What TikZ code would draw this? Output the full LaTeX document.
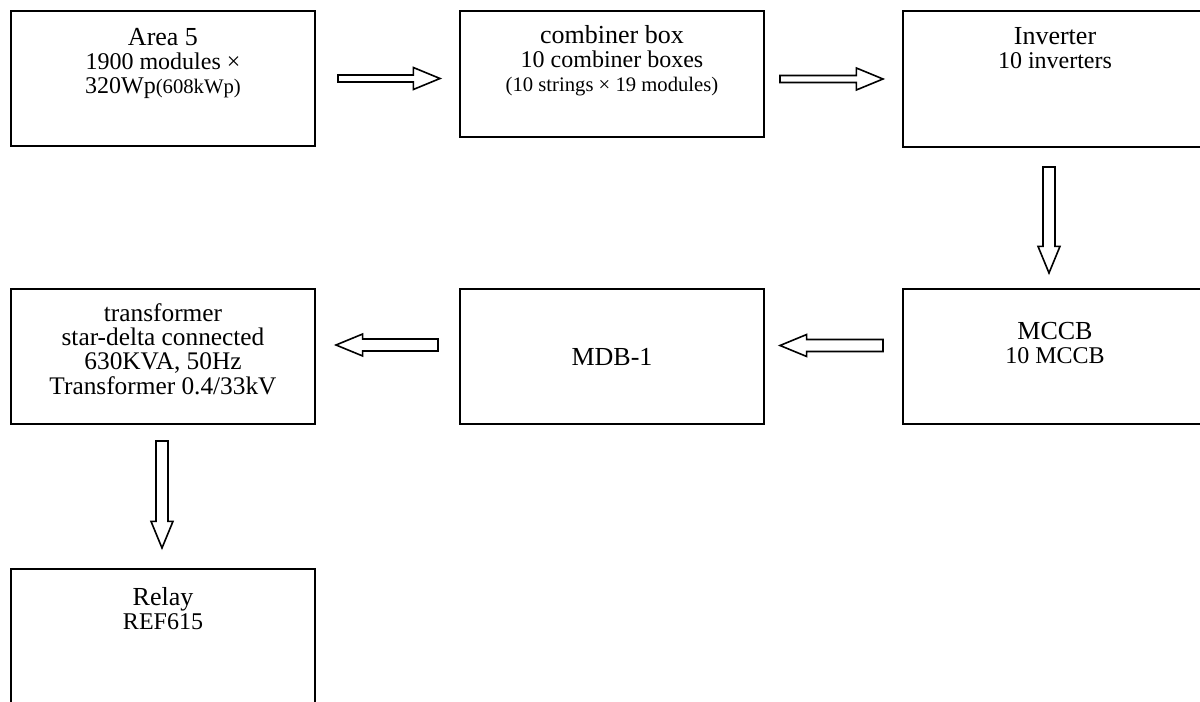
\documentclass[tikz,border=0pt]{standalone}
\usepackage{fontspec}
\setmainfont{Liberation Serif}
\usepackage{tikz}
\usetikzlibrary{calc}
\newcommand{\ttl}{\fontsize{19.5}{18}\selectfont}
\newcommand{\sml}{\fontsize{15.5}{18}\selectfont}
\tikzset{
  blk/.style={rectangle, draw, line width=1.5pt, anchor=north west, inner sep=0pt,
              minimum width=228pt, minimum height=101.25pt},
  txt/.style={align=center, anchor=base, inner sep=0pt, font=\fontsize{18}{18}\selectfont},
  fat/.style={draw, line width=1.2pt, fill=white, miter limit=20},
}
% hollow block arrow: [shaft half width]{from}{to}
\newcommand{\fatarrow}[3][4.5pt]{%
  \coordinate (fa-h) at ($(#3)!20pt!(#2)$);
  \draw[fat] ($(#2)!#1!90:(#3)$) -- ($(fa-h)!#1!90:(#3)$) -- ($(fa-h)!8.25pt!90:(#3)$)
    -- (#3) -- ($(fa-h)!8.25pt!-90:(#3)$) -- ($(fa-h)!#1!-90:(#3)$)
    -- ($(#2)!#1!-90:(#3)$) -- cycle;
}

\begin{document}
\begin{tikzpicture}[x=0.75pt, y=-0.75pt]
  \useasboundingbox (0,0) rectangle (1200,702);
  % boxes
  \node[blk] (area) at (10,10) {};
  \node[blk, minimum height=94.5pt] (comb) at (459,10) {};
  \node[blk, minimum height=102pt] (inv) at (902,10) {};
  \node[blk] (mccb) at (902,288) {};
  \node[blk] (mdb) at (459,288) {};
  \node[blk] (trans) at (10,288) {};
  \node[blk, minimum height=102pt] (relay) at (10,568) {};
  % texts (base = last line)
  \node[txt] (area-t) at ([yshift=-62.8pt]area.north)
    {{\ttl Area 5}\\1900 modules ×\\320Wp{\sml(608kWp)}};
  \node[txt] (comb-t) at ([yshift=-61.5pt]comb.north)
    {{\ttl combiner box}\\10 combiner boxes\\{\sml(10 strings × 19 modules)}};
  \node[txt] (inv-t) at ([yshift=-44.25pt]inv.north)
    {{\ttl Inverter}\\10 inverters};
  \node[txt] (mccb-t) at ([yshift=-56.8pt]mccb.north)
    {{\ttl MCCB}\\10 MCCB};
  \node[txt] (mdb-t) at ([yshift=-58.5pt]mdb.north) {\ttl MDB-1};
  \node[txt, font=\fontsize{19}{18.2}\selectfont] (trans-t) at ([yshift=-79.5pt]trans.north)
    {transformer\\star-delta connected\\630KVA, 50Hz\\Transformer 0.4/33kV};
  \node[txt] (relay-t) at ([yshift=-46.3pt]relay.north)
    {{\ttl Relay}\\REF615};
  % arrows
  \coordinate (a1s) at ($(area.east)+(22,0)$);
  \coordinate (a1e) at ($(area.east -| comb.west)+(-19,0)$);
  \fatarrow[2.6pt]{a1s}{a1e}
  \coordinate (a2s) at ($(comb.east |- inv.west)+(15,0)$);
  \coordinate (a2e) at ($(inv.west)+(-19,0)$);
  \fatarrow[2.6pt]{a2s}{a2e}
  \coordinate (a3s) at ($(inv.south)+(-6,19)$);
  \coordinate (a3e) at ($(mccb.north)+(-6,-15)$);
  \fatarrow{a3s}{a3e}
  \coordinate (a4s) at ($(mccb.west)+(-19,-11)$);
  \coordinate (a4e) at ($(mdb.east)+(15,-11)$);
  \fatarrow{a4s}{a4e}
  \coordinate (a5s) at ($(mdb.west)+(-21,-11.5)$);
  \coordinate (a5e) at ($(trans.east)+(20,-11.5)$);
  \fatarrow{a5s}{a5e}
  \coordinate (a6s) at ($(trans.south)+(-1,16)$);
  \coordinate (a6e) at ($(relay.north)+(-1,-20)$);
  \fatarrow{a6s}{a6e}
\end{tikzpicture}
\end{document}
